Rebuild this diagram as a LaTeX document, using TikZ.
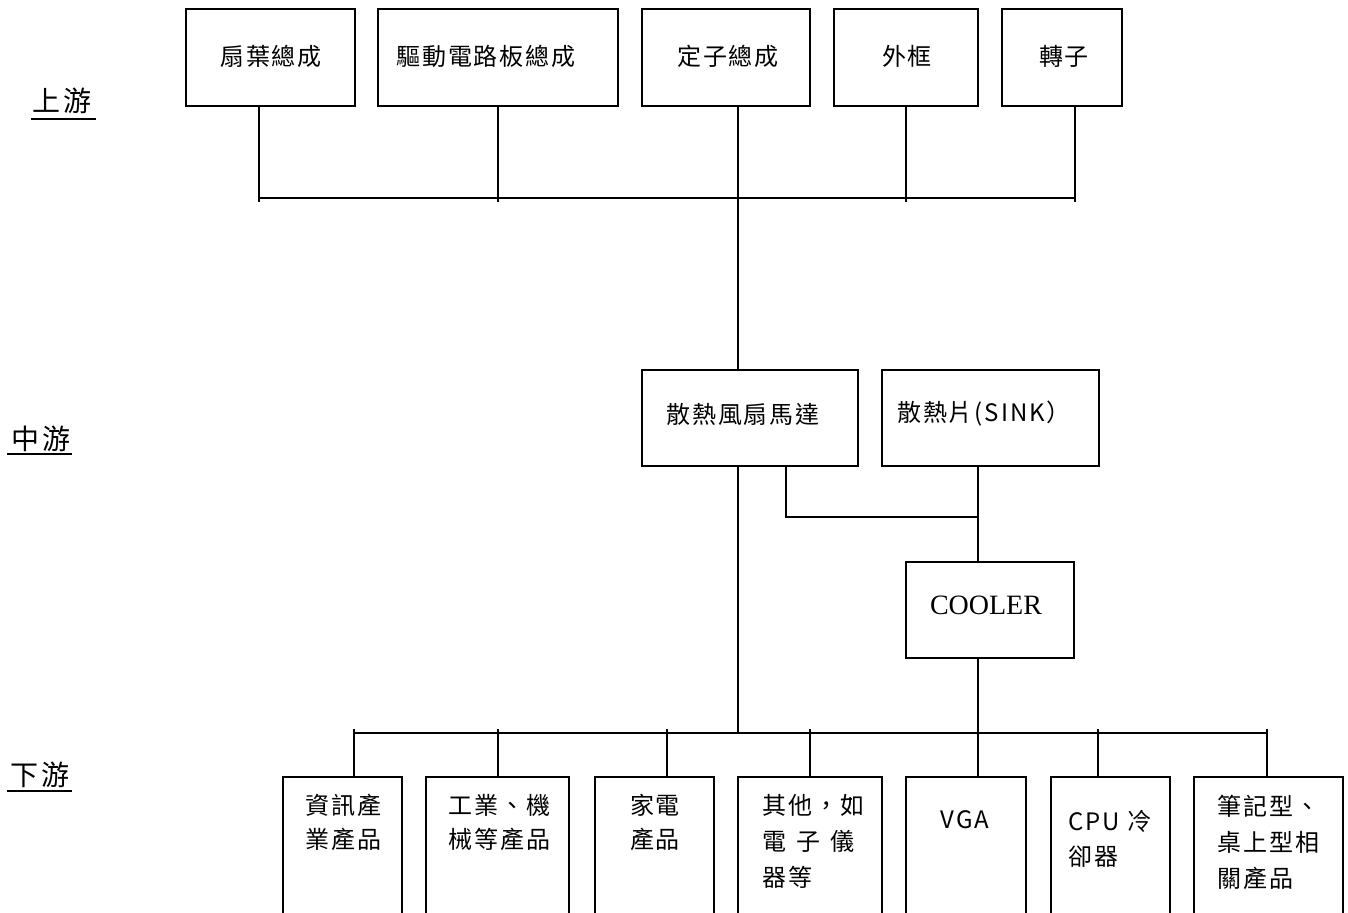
\documentclass[tikz,border=0pt]{standalone}
\usepackage{fontspec}
\setmainfont{Liberation Serif}
\newfontfamily\cjk[LetterSpace=8]{Noto Sans CJK TC}
\newfontfamily\cjkside[LetterSpace=12]{Noto Sans CJK TC}
\newcommand\fstrut{\rule{0pt}{12pt}}
\begin{document}
\begin{tikzpicture}[x=0.5pt,y=-0.5pt,
  box/.style={draw,line width=1.3pt,rectangle,inner sep=0pt,outer sep=0pt},
  conn/.style={line width=0.9pt},
  bus/.style={line width=1.2pt},
  uline/.style={line width=1pt},
  ttext/.style={inner sep=0pt,font=\cjk\fontsize{12pt}{15pt}\selectfont},
  btext/.style={inner sep=0pt,align=left,anchor=north west},
  side/.style={inner sep=0pt,font=\cjkside\fontsize{14pt}{16pt}\selectfont}
]
\useasboundingbox (0,0) rectangle (1348,912);

% side labels
\node[side] (up) at (62,101) {上游};
\node[side] (mid) at (41,439) {中游};
\node[side] (down) at (40,775) {下游};
\draw[uline] (31,119) -- (96,119);
\draw[uline] (7,454) -- (72,454);
\draw[uline] (7,791) -- (72,791);

% upstream boxes
\node[box,minimum width=84.5pt,minimum height=48.5pt] (t1) at (270.5,57.5) {};
\node[box,minimum width=120pt,minimum height=48.5pt] (t2) at (498,57.5) {};
\node[box,minimum width=84pt,minimum height=48.5pt] (t3) at (726,57.5) {};
\node[box,minimum width=72pt,minimum height=48.5pt] (t4) at (906,57.5) {};
\node[box,minimum width=60pt,minimum height=48.5pt] (t5) at (1062,57.5) {};
\node[ttext] (t1x) at (271,56) {扇葉總成};
\node[ttext] (t2x) at (486,56) {驅動電路板總成};
\node[ttext] (t3x) at (728,56) {定子總成};
\node[ttext] (t4x) at (907,56) {外框};
\node[ttext] (t5x) at (1064,56) {轉子};

% midstream boxes
\node[box,minimum width=108pt,minimum height=48pt] (m1) at (750,418) {};
\node[box,minimum width=108.5pt,minimum height=48pt] (m2) at (990.5,418) {};
\node[box,minimum width=84pt,minimum height=48pt] (cool) at (990,610) {};
\node[ttext] (m1x) at (743,414) {散熱風扇馬達};
\node[ttext] (m2x) at (984,414) {散熱片(SINK）};
\node[inner sep=0pt,font=\fontsize{14pt}{16pt}\selectfont] (coolx) at (986,605) {COOLER};

% downstream boxes
\node[box,minimum width=59.5pt,minimum height=70.5pt] (b1) at (342.5,847.5) {};
\node[box,minimum width=71.5pt,minimum height=70.5pt] (b2) at (497.5,847.5) {};
\node[box,minimum width=59.5pt,minimum height=70.5pt] (b3) at (654.5,847.5) {};
\node[box,minimum width=72pt,minimum height=70.5pt] (b4) at (810,847.5) {};
\node[box,minimum width=60pt,minimum height=70.5pt] (b5) at (966,847.5) {};
\node[box,minimum width=59.5pt,minimum height=70.5pt] (b6) at (1110.5,847.5) {};
\node[box,minimum width=74.5pt,minimum height=70.5pt] (b7) at (1268.5,847.5) {};

\node[btext,font=\cjk\fontsize{12pt}{17pt}\selectfont] (b1x) at (305,790) {\fstrut 資訊產\\業產品};
\node[btext,font=\cjk\fontsize{12pt}{17pt}\selectfont] (b2x) at (448,790) {\fstrut 工業、機\\械等產品};
\node[btext,align=center,anchor=north,font=\cjk\fontsize{12pt}{17pt}\selectfont] (b3x) at (655,790) {\fstrut 家電\\產品};
\node[btext,font=\cjk\fontsize{12pt}{18pt}\selectfont] (b4x) at (762,790) {\fstrut 其他，如\\電\hspace{5pt}子\hspace{5pt}儀\\器等};
\node[ttext] (b5x) at (965,820) {VGA};
\node[btext,font=\cjk\fontsize{12pt}{17.5pt}\selectfont] (b6x) at (1068,806) {\fstrut CPU 冷\\卻器};
\node[btext,font=\cjk\fontsize{12pt}{18pt}\selectfont] (b7x) at (1217,791) {\fstrut 筆記型、\\桌上型相\\關產品};

% upstream connectors
\coordinate (u1) at (259,202);
\coordinate (u2) at (498,202);
\coordinate (u4) at (906,202);
\coordinate (u5) at (1075,202);
\coordinate (uL) at (259,198);
\coordinate (uR) at (1075,198);
\coordinate (x738) at (738,0);
\draw[conn] (t1.south -| u1) -- (u1);
\draw[conn] (t2.south -| u2) -- (u2);
\draw[conn] (t4.south -| u4) -- (u4);
\draw[conn] (t5.south -| u5) -- (u5);
\draw[bus] (uL) -- (uR);
\draw[conn] (t3.south -| x738) -- (m1.north -| x738);

% midstream connectors
\coordinate (x786) at (786,0);
\coordinate (jm) at (978,517);
\coordinate (x978) at (978,0);
\coordinate (dT) at (738,733);
\coordinate (dC) at (978,733);
\draw[conn] (m1.south -| x786) |- (jm);
\draw[conn] (m2.south -| x978) -- (cool.north -| x978);
\draw[conn] (m1.south -| x738) -- (dT);
\draw[conn] (cool.south -| x978) -- (dC);

% downstream bus
\coordinate (dL) at (354,733);
\coordinate (dR) at (1267,733);
\draw[bus] (dL) -- (dR);
\coordinate (d1) at (354,729);
\coordinate (d2) at (498,729);
\coordinate (d3) at (667,729);
\coordinate (d4) at (810,729);
\coordinate (d5) at (978,729);
\coordinate (d6) at (1098,729);
\coordinate (d7) at (1267,729);
\draw[conn] (d1) -- (b1.north -| d1);
\draw[conn] (d2) -- (b2.north -| d2);
\draw[conn] (d3) -- (b3.north -| d3);
\draw[conn] (d4) -- (b4.north -| d4);
\draw[conn] (d5) -- (b5.north -| d5);
\draw[conn] (d6) -- (b6.north -| d6);
\draw[conn] (d7) -- (b7.north -| d7);
\end{tikzpicture}
\end{document}
